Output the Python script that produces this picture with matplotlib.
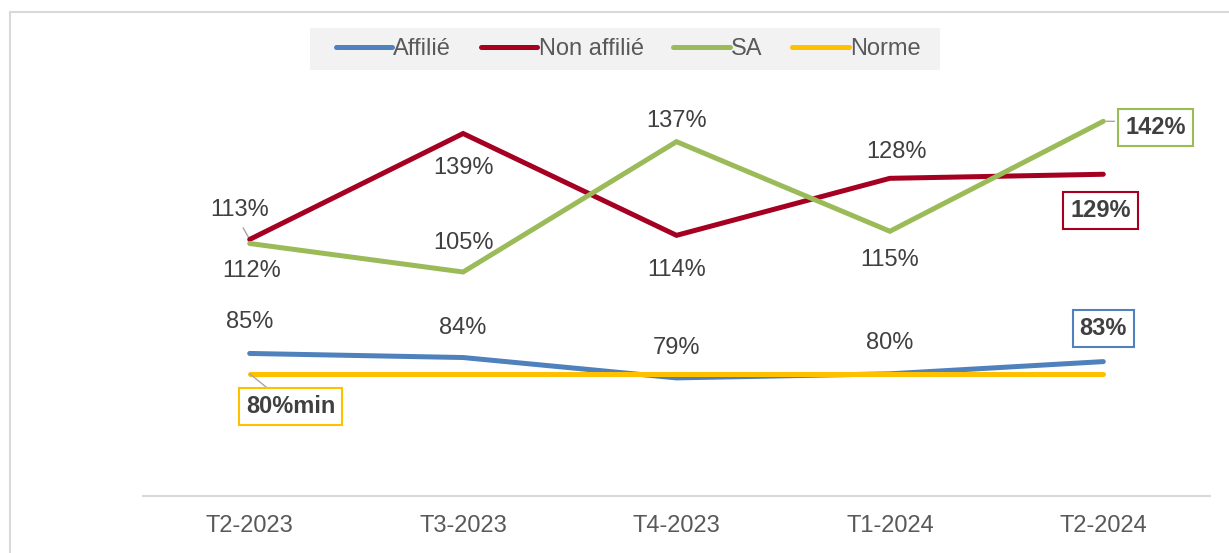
import matplotlib.pyplot as plt
from matplotlib.lines import Line2D
from matplotlib.patches import Rectangle

plt.rcParams['font.family'] = ['Liberation Sans', 'DejaVu Sans']

# Donnees
trimestres = ['T2-2023', 'T3-2023', 'T4-2023', 'T1-2024', 'T2-2024']
affilie = [85, 84, 79, 80, 83]
non_affilie = [113, 139, 114, 128, 129]
sa = [112, 105, 137, 115, 142]
norme = [80, 80, 80, 80, 80]

couleurs = {'Affilié': '#4F81BD', 'Non affilié': '#A50021',
            'SA': '#9BBB59', 'Norme': '#FFC000'}
texte = '#404040'
taille = 17

fig = plt.figure(figsize=(12.29, 5.53), dpi=100)
ax = fig.add_axes([143 / 1229, 1 - 496 / 553, (1210 - 143) / 1229, (496 - 48) / 553])
ax.patch.set_visible(False)

x = list(range(len(trimestres)))
series = [('Affilié', affilie), ('Non affilié', non_affilie), ('SA', sa), ('Norme', norme)]
for nom, vals in series:
    z = 2 if nom == 'Affilié' else 3
    if nom == 'Norme':
        z = 2.5
    ax.plot(x, vals, color=couleurs[nom], lw=3.6, solid_capstyle='round',
            solid_joinstyle='miter', label=nom, zorder=z)

ax.set_xlim(-0.5, 4.5)
ax.set_ylim(50, 160)
ax.set_yticks([])
ax.set_xticks(x)
ax.set_xticklabels(trimestres, fontsize=taille, color='#595959')
ax.tick_params(axis='x', length=0, pad=14)
for s in ['top', 'right', 'left']:
    ax.spines[s].set_visible(False)
ax.spines['bottom'].set_color('#D9D9D9')
ax.spines['bottom'].set_linewidth(1.5)

# decalages des etiquettes en pixels (dx, dy)
decal = {
    'Affilié': [(0, 31), (0, 30), (0, 30), (0, 31), (0, 33)],
    'Non affilié': [(-10, 29), (0, -34), (0, -35), (7, 26), (-3, -36)],
    'SA': [(2, -28), (0, 29), (0, 21), (0, -29), (52, -6)],
}
for nom, vals in series[:3]:
    for i, v in enumerate(vals):
        dx, dy = decal[nom][i]
        if i == 4:
            ax.annotate(f'{v}%', (i, v), xytext=(dx, dy), textcoords='offset pixels',
                        ha='center', va='center', fontsize=taille, fontweight='bold', color=texte,
                        bbox=dict(boxstyle='square,pad=0.3', fc='white', ec=couleurs[nom], lw=1.5),
                        zorder=5)
        else:
            ax.annotate(f'{v}%', (i, v), xytext=(dx, dy), textcoords='offset pixels',
                        ha='center', va='center', fontsize=taille, color=texte, zorder=5)

# traits de rappel
ax.annotate('', (0, non_affilie[0]), xytext=(-8, 14), textcoords='offset pixels',
            arrowprops=dict(arrowstyle='-', color='#A6A6A6', lw=1), zorder=1)
ax.annotate('', (4, sa[4]), xytext=(14, 0), textcoords='offset pixels',
            arrowprops=dict(arrowstyle='-', color='#A6A6A6', lw=1), zorder=1)
ax.annotate('80%min', (0, norme[0]), xytext=(41, -33), textcoords='offset pixels',
            ha='center', va='center', fontsize=taille, fontweight='bold', color=texte,
            bbox=dict(boxstyle='square,pad=0.3', fc='white', ec=couleurs['Norme'], lw=1.5),
            arrowprops=dict(arrowstyle='-', color='#A6A6A6', lw=1, shrinkA=0, shrinkB=0),
            zorder=5)

# fond gris de la legende
fig.add_artist(Rectangle((310 / 1229, 1 - 70 / 553), 630 / 1229, 42 / 553,
                         transform=fig.transFigure, fc='#F2F2F2', ec='none', zorder=1))
poignees = [Line2D([0], [0], color=couleurs[n], lw=3.6, solid_capstyle='round') for n, _ in series]
leg = fig.legend(poignees, [n for n, _ in series], loc='center', bbox_to_anchor=(628 / 1229, 1 - 49 / 553),
                 ncol=4, frameon=False, fontsize=taille, handlelength=2.4, handletextpad=0.05,
                 columnspacing=1.25, borderpad=0.35)
leg.set_zorder(6)
for t in leg.get_texts():
    t.set_color('#595959')

# cadre du graphique
fig.add_artist(Line2D([10 / 1229, 1], [1 - 12 / 553] * 2, color='#D9D9D9', lw=1.5))
fig.add_artist(Line2D([10 / 1229] * 2, [0, 1 - 12 / 553], color='#D9D9D9', lw=1.5))

fig.savefig('out.png', dpi=100)
